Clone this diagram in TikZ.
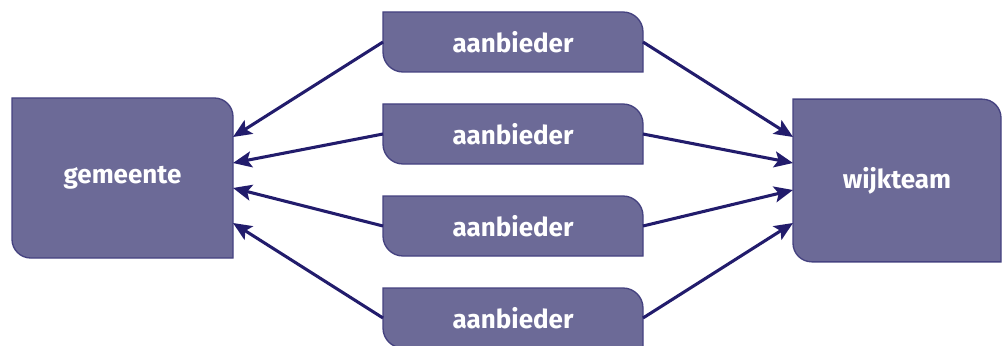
\documentclass[tikz,border=0pt]{standalone}
\usepackage{fontspec}
\setmainfont{Fira Sans}
\usetikzlibrary{arrows.meta, positioning, backgrounds}
\definecolor{boxfill}{HTML}{6C6A97}
\definecolor{boxline}{HTML}{454280}
\definecolor{arrowblue}{HTML}{221C6C}
\tikzset{
  party/.style 2 args={minimum width=#1, minimum height=#2, inner sep=0pt,
    outer sep=0pt, text=white, font=\fontsize{19.5}{22}\selectfont\bfseries},
  flow/.style={arrowblue, line width=2.3pt, -{Stealth[length=14pt, width=12pt, inset=3pt]}}
}
% box with a rounded top right and bottom left corner
\newcommand{\leafbox}[2]{%
  \filldraw[boxline, fill=boxfill, line width=1pt]
    (#1.north west) -- ([xshift=-#2]#1.north east)
    arc[start angle=90, end angle=0, radius=#2]
    -- (#1.south east) -- ([xshift=#2]#1.south west)
    arc[start angle=270, end angle=180, radius=#2] -- cycle;}

\begin{document}
\begin{tikzpicture}[x=0.75pt, y=-0.75pt]
    \useasboundingbox (0,0) rectangle (1004,346);

    % --- Parties ---
    \node[party={165.75pt}{120pt}] (gem) at (122.5,178) {gemeente};
    \node[party={156pt}{122pt}] (wijk) at (897,180.5) {wijkteam};
    \foreach \i/\y in {1/42, 2/134, 3/226, 4/318}
      \node[party={195pt}{45pt}] (a\i) at (513,\y) {aanbieder};

    % --- Box shapes behind the texts ---
    \begin{scope}[on background layer]
      \leafbox{gem}{14pt}
      \leafbox{wijk}{14pt}
      \foreach \i in {1,...,4} {\leafbox{a\i}{15pt}}
    \end{scope}

    % --- Arrow tips on the two sides ---
    \coordinate (g1) at (233,137);
    \coordinate (g2) at (233,163);
    \coordinate (g3) at (233,188);
    \coordinate (g4) at (233,223);
    \coordinate (w1) at (793,137);
    \coordinate (w2) at (793,163);
    \coordinate (w3) at (793,190);
    \coordinate (w4) at (793,223);

    % --- Arrows from every aanbieder ---
    \foreach \i in {1,...,4} {
      \draw[flow] (a\i.west) -- (g\i);
      \draw[flow] (a\i.east) -- (w\i);
    }
\end{tikzpicture}
\end{document}
